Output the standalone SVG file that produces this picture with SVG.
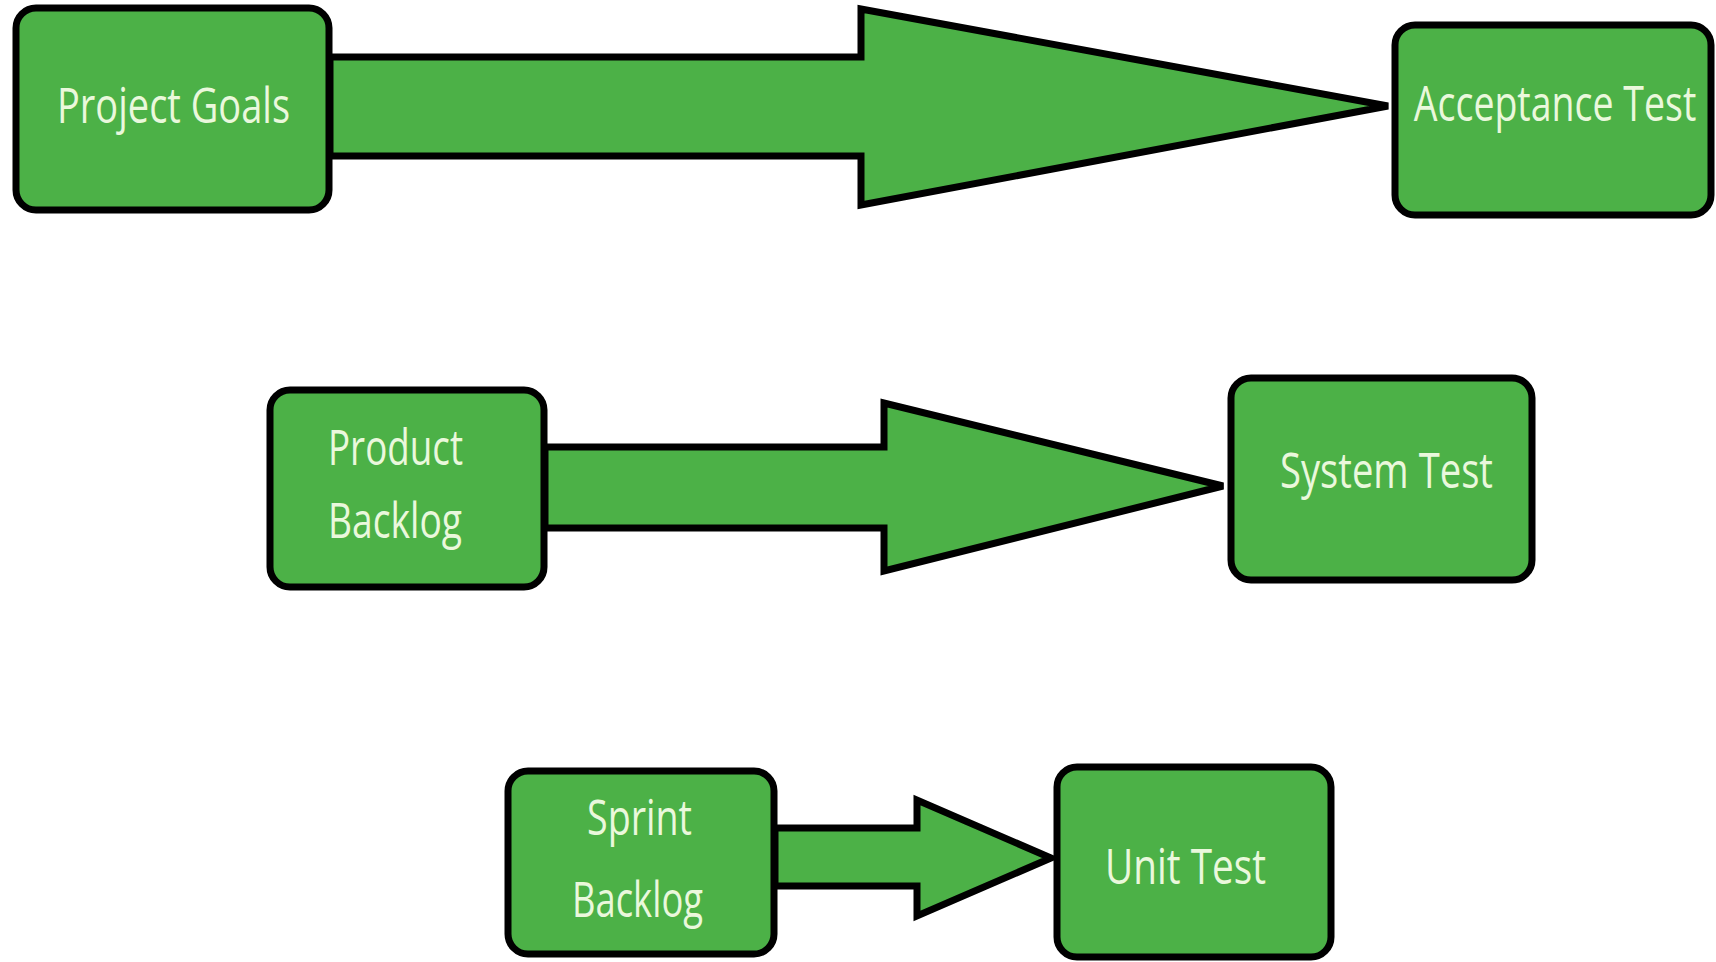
<svg xmlns="http://www.w3.org/2000/svg" width="1716" height="962" viewBox="0 0 1716 962">
<style>
.node rect{fill:#4cb147;stroke:#000;stroke-width:7}
.arrow{fill:#4cb147;stroke:#000;stroke-width:7;stroke-linejoin:miter}
.label{font-family:"Open Sans","Liberation Sans",sans-serif;font-size:50px;fill:#eaf8dc}
</style>
<rect width="1716" height="962" fill="#fff"/>
<g id="connectors">
<polygon class="arrow" points="330,57 861,57 861,9 1388,106 861,205 861,156 330,156"/>
<polygon class="arrow" points="545,447 884,447 884,403 1223,486 884,571 884,528 545,528"/>
<polygon class="arrow" points="775,828 917,828 917,800 1051,858 917,916 917,886 775,886"/>
</g>
<g id="project-goals" class="node">
<rect x="16" y="8" width="313" height="202" rx="20"/>
<text class="label" x="57" y="123" textLength="233" lengthAdjust="spacingAndGlyphs">Project Goals</text>
</g>
<g id="acceptance-test" class="node">
<rect x="1395" y="25" width="316" height="190" rx="20"/>
<text class="label" x="0" y="0" text-anchor="middle" transform="translate(1555,121) scale(0.75,1)">Acceptance Test</text>
</g>
<g id="product-backlog" class="node">
<rect x="270" y="390" width="274" height="197" rx="20"/>
<text class="label" x="328" y="465" textLength="135" lengthAdjust="spacingAndGlyphs">Product</text>
<text class="label" x="328" y="538" textLength="134" lengthAdjust="spacingAndGlyphs">Backlog</text>
</g>
<g id="system-test" class="node">
<rect x="1231" y="378" width="301" height="202" rx="20"/>
<text class="label" x="1280" y="488" textLength="213" lengthAdjust="spacingAndGlyphs">System Test</text>
</g>
<g id="sprint-backlog" class="node">
<rect x="508" y="771" width="266" height="183" rx="20"/>
<text class="label" x="587" y="835" textLength="105" lengthAdjust="spacingAndGlyphs">Sprint</text>
<text class="label" x="572" y="917" textLength="131" lengthAdjust="spacingAndGlyphs">Backlog</text>
</g>
<g id="unit-test" class="node">
<rect x="1057" y="767" width="274" height="190" rx="20"/>
<text class="label" x="1105" y="884" textLength="161" lengthAdjust="spacingAndGlyphs">Unit Test</text>
</g>
</svg>
